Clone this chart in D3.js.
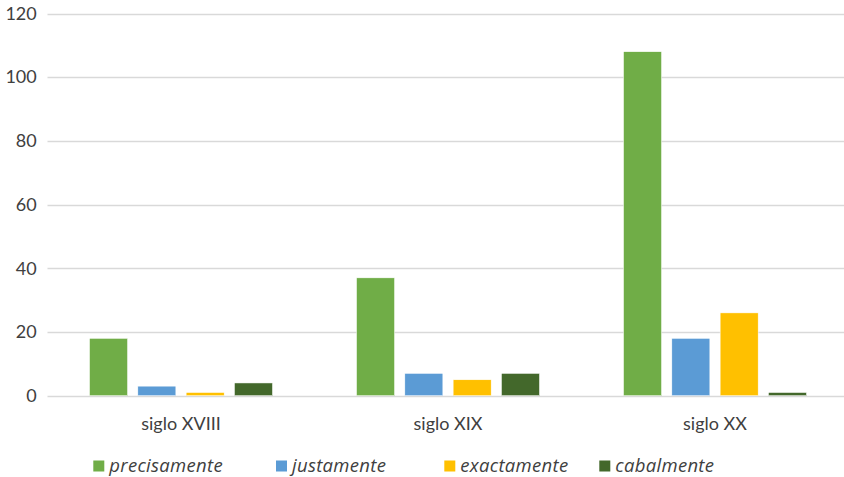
<!DOCTYPE html>
<html><head><meta charset="utf-8">
<script src="https://cdn.jsdelivr.net/npm/d3@7"></script>
<style>body{margin:0;background:#fff}svg{display:block;font-family:Lato,"Open Sans",sans-serif}</style>
</head><body>
<svg id="c" width="844" height="477"></svg>
<script>
const categories = ["siglo XVIII", "siglo XIX", "siglo XX"];
const seriesNames = ["precisamente", "justamente", "exactamente", "cabalmente"];
const precisamente = [18, 37, 108];
const justamente = [3, 7, 18];
const exactamente = [1, 5, 26];
const cabalmente = [4, 7, 1];
const yTicks = [0, 20, 40, 60, 80, 100, 120];
const colors = ["#70AD47", "#5B9BD5", "#FFC000", "#43682B"];

const seriesValues = [precisamente, justamente, exactamente, cabalmente];
const svg = d3.select("#c");
const x0 = d3.scaleBand().domain(categories).range([47.5, 848.5]).paddingInner(0).paddingOuter(0);
const x1 = d3.scaleBand().domain(seriesNames).range([0, x0.bandwidth()]).paddingInner(0.213).paddingOuter(0.87);
const y = d3.scaleLinear().domain([0, 120]).range([395.7, 13.5]);

// y axis labels
const yAxis = d3.axisLeft(y).tickValues(yTicks).tickSize(0).tickPadding(10.8);
const gy = svg.append("g").attr("transform", "translate(47.5,0)").call(yAxis);
gy.select(".domain").remove();
gy.selectAll("text").attr("font-size", 18).attr("fill", "#404040").attr("font-family", "Lato, sans-serif");

// gridlines
svg.append("g").selectAll("line").data(yTicks).join("line")
  .attr("x1", 47.5).attr("x2", 844)
  .attr("y1", d => Math.round(y(d)) + 0.5).attr("y2", d => Math.round(y(d)) + 0.5)
  .attr("stroke", "#d9d9d9").attr("stroke-width", 1.3);

// bars
const g = svg.append("g");
categories.forEach((cat, ci) => {
  seriesNames.forEach((s, si) => {
    const v = seriesValues[si][ci];
    g.append("rect")
      .attr("x", x0(cat) + x1(s))
      .attr("y", y(v))
      .attr("width", x1.bandwidth())
      .attr("height", y(0) - y(v))
      .attr("fill", colors[si])
      .attr("stroke", "#fff").attr("stroke-width", 0.5);
  });
});

// x axis labels
const xAxis = d3.axisBottom(x0).tickSize(0).tickPadding(0);
const gx = svg.append("g").attr("transform", "translate(0,430)").call(xAxis);
gx.select(".domain").remove();
gx.selectAll("text").attr("font-size", 18).attr("fill", "#404040").attr("font-family", "Lato, sans-serif").attr("dy", "0");

// legend
const legX = [93.3, 276, 444.3, 599.3];
const leg = svg.append("g");
seriesNames.forEach((s, i) => {
  leg.append("rect").attr("x", legX[i]).attr("y", 460.5).attr("width", 11).attr("height", 11).attr("fill", colors[i]);
  leg.append("text").attr("x", legX[i] + 16).attr("y", 471.7)
    .attr("font-size", 18.5).attr("font-style", "italic").attr("fill", "#404040")
    .attr("font-family", "'Open Sans', sans-serif").attr("letter-spacing", 0.3).text(s);
});
</script>
</body></html>
